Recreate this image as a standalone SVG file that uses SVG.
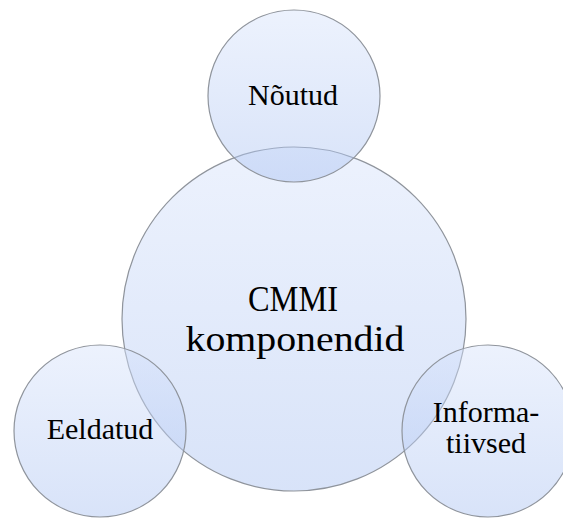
<svg xmlns="http://www.w3.org/2000/svg" width="563" height="518" viewBox="0 0 563 518">
<defs>
<linearGradient id="g" x1="0" y1="0" x2="0" y2="1">
<stop offset="0" stop-color="#d6e2fb"/>
<stop offset="1" stop-color="#a9c1f1"/>
</linearGradient>
<style>
.c{fill:url(#g);fill-opacity:0.45;stroke:#8f949c;stroke-width:1.2}
.t{font-family:"Liberation Serif","DejaVu Serif",serif;fill:#000;text-anchor:middle}
</style>
</defs>
<rect width="563" height="518" fill="#fff"/>
<g id="cmmi"><circle class="c" cx="294" cy="319" r="172"/></g>
<g id="noutud"><circle class="c" cx="294" cy="96" r="86"/><text class="t" x="293" y="105" font-size="30">Nõutud</text></g>
<g id="eeldatud"><circle class="c" cx="100" cy="431" r="86"/><text class="t" x="100" y="439" font-size="30">Eeldatud</text></g>
<g id="informatiivsed"><circle class="c" cx="488" cy="431" r="86"/><text class="t" x="486" y="422" font-size="30">Informa-</text><text class="t" x="486" y="453" font-size="30">tiivsed</text></g>
<g id="labels"><text class="t" x="293" y="311" font-size="35" textLength="90" lengthAdjust="spacingAndGlyphs">CMMI</text><text class="t" x="295" y="351" font-size="35" textLength="219" lengthAdjust="spacingAndGlyphs">komponendid</text></g>
<g id="connectors"/>
</svg>
